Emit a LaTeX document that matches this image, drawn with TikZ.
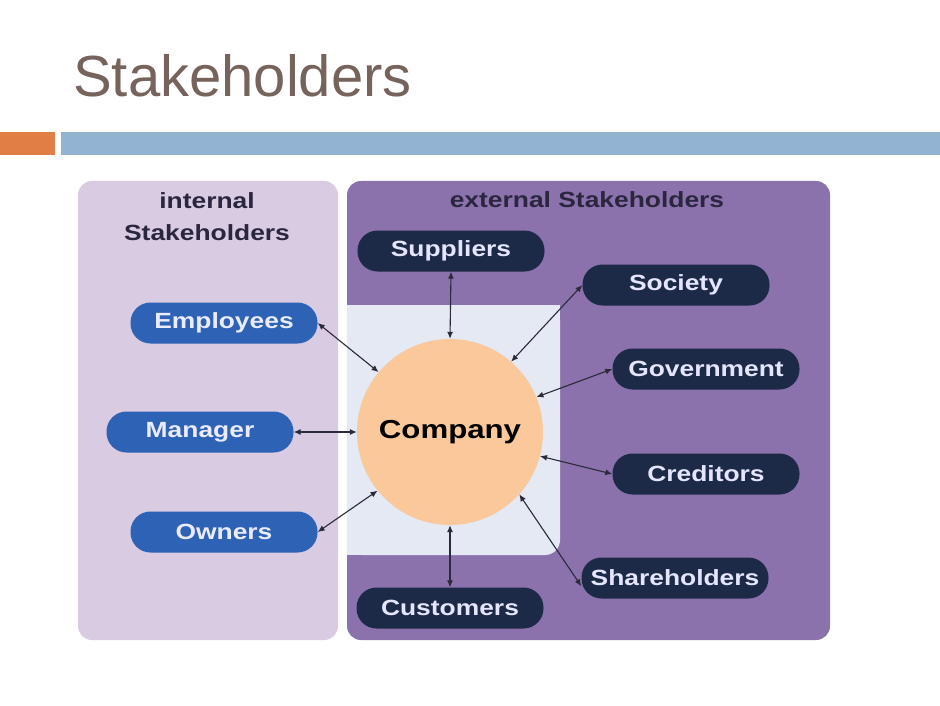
\documentclass[tikz,border=0pt]{standalone}
\usepackage{fontspec}
\setmainfont{Liberation Sans}
\newfontfamily\dfont[FakeStretch=1.2]{Liberation Sans}
\usetikzlibrary{arrows.meta}
\definecolor{titlec}{HTML}{76635C}
\definecolor{barorange}{HTML}{E07E45}
\definecolor{barblue}{HTML}{93B3D3}
\definecolor{leftpanel}{HTML}{D8CBE2}
\definecolor{rightpanel}{HTML}{8C72AC}
\definecolor{innerlight}{HTML}{E5E9F3}
\definecolor{compfill}{HTML}{FAC89A}
\definecolor{navy}{HTML}{1C2A48}
\definecolor{blueb}{HTML}{2E62B4}
\definecolor{headc}{HTML}{2B2640}
\definecolor{arrowc}{HTML}{2A2A3A}
\tikzset{
  pill/.style={rectangle, rounded corners=20pt, minimum width=187pt, minimum height=41pt,
    inner sep=0pt, font=\dfont\bfseries\fontsize{22}{24}\selectfont},
  extnode/.style={pill, fill=navy, text=white!90!blue},
  intnode/.style={pill, fill=blueb, text=white!92!blue},
  heading/.style={text=headc, font=\dfont\bfseries\fontsize{22}{24}\selectfont, inner sep=0pt},
  link/.style={draw=arrowc, line width=1.1pt, {Latex[length=7pt,width=6pt]}-{Latex[length=7pt,width=6pt]}}
}
\begin{document}
\begin{tikzpicture}[x=1pt,y=-1pt]
\useasboundingbox (0,0) rectangle (940,706);
\fill[white] (0,0) rectangle (940,706);
% title and bars
\node[anchor=base west, inner sep=0pt, text=titlec, font=\fontsize{58}{60}\selectfont] (title) at (73,97) {Stakeholders};
\fill[barorange] (0,132) rectangle (55,155);
\fill[barblue] (61,132) rectangle (940,155);
% panels
\fill[leftpanel, rounded corners=14pt] (78,181) rectangle (338,640);
\fill[rightpanel, rounded corners=14pt] (347,181) rectangle (830,640);
\fill[innerlight, rounded corners=15pt] (347,305) rectangle (560,555);
\fill[innerlight] (347,305) rectangle (540,555);
\fill[innerlight] (347,305) rectangle (560,535);
% headings
\node[heading] (hint1) at (207,201) {internal};
\node[heading] (hint2) at (207,233) {Stakeholders};
\node[heading] (hext) at (587,200) {external Stakeholders};
% company
\node[circle, fill=compfill, minimum size=186pt, inner sep=0pt,
  font=\dfont\bfseries\fontsize{26}{28}\selectfont] (comp) at (450,432) {Company};
% external nodes
\node[extnode] (sup) at (451,251) {Suppliers};
\node[extnode] (soc) at (676,285) {Society};
\node[extnode] (gov) at (706,369) {Government};
\node[extnode] (cred) at (706,474) {Creditors};
\node[extnode] (share) at (675,578) {Shareholders};
\node[extnode] (cust) at (450,608) {Customers};
% internal nodes
\node[intnode] (emp) at (224,323) {Employees};
\node[intnode] (man) at (200,432) {Manager};
\node[intnode] (own) at (224,532) {Owners};
% links
\draw[link] (emp.east) -- (comp.140);
\draw[link] (man.east) -- (comp.west);
\draw[link] (own.east) -- (comp.219);
\draw[link] (sup.south) -- (comp.north);
\draw[link] (soc.west) -- (comp.49);
\draw[link] (gov.west) -- (comp.22);
\draw[link] (cred.west) -- (comp.-15);
\draw[link] (share.185) -- (comp.-42);
\draw[link] (cust.north) -- (comp.south);
\end{tikzpicture}
\end{document}
